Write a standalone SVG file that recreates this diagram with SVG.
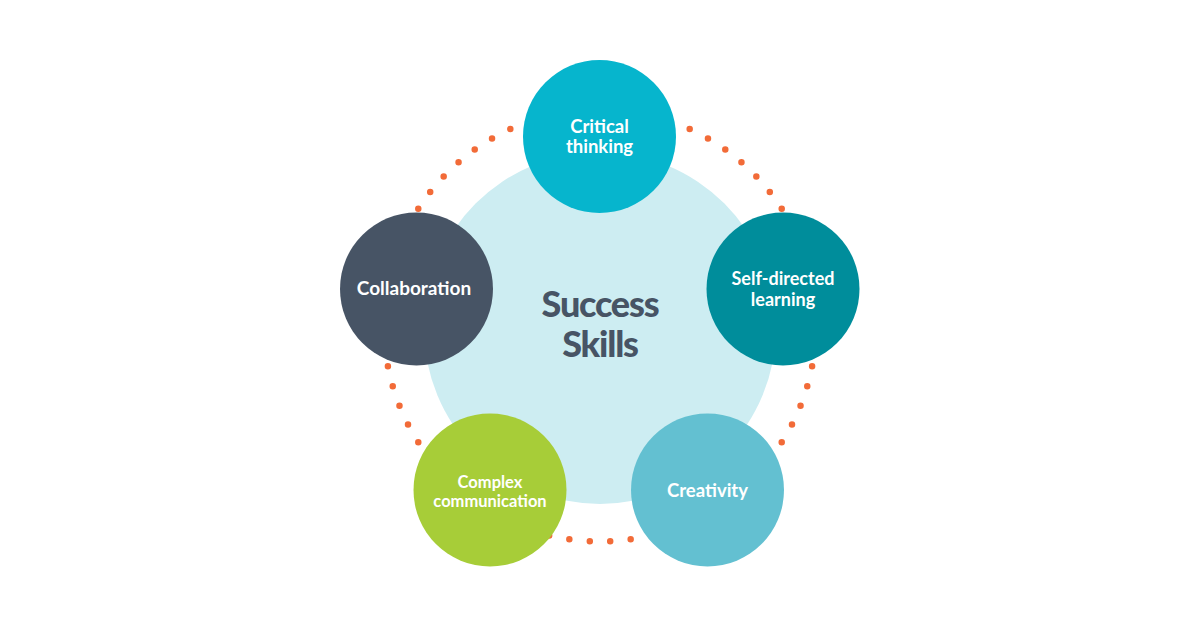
<svg xmlns="http://www.w3.org/2000/svg" width="1200" height="628" viewBox="0 0 1200 628">
<style>
.lbl{font-family:"Lato","Open Sans","Liberation Sans",sans-serif;font-weight:700;fill:#ffffff;text-anchor:middle}
.big{font-family:"Lato","Open Sans","Liberation Sans",sans-serif;font-weight:900;fill:#475465;text-anchor:middle;font-size:36px;letter-spacing:-1.2px}
</style>
<rect width="1200" height="628" fill="#ffffff"/>
<g id="connectors">
<circle cx="600" cy="325.5" r="216" fill="none" stroke="#F26B38" stroke-width="6.5" stroke-linecap="round" pathLength="66" stroke-dasharray="0 1"/>
</g>
<g id="center">
<circle cx="600" cy="328" r="176" fill="#CDEDF2"/>
<text class="big" x="600" y="317">Success</text>
<text class="big" x="600" y="357">Skills</text>
</g>
<g id="critical-thinking">
<circle cx="599.5" cy="136.5" r="76.5" fill="#06B5CD"/>
<text class="lbl" x="599.5" y="132.5" font-size="18.5">Critical</text>
<text class="lbl" x="599.5" y="152.5" font-size="18.5">thinking</text>
</g>
<g id="self-directed-learning">
<circle cx="783" cy="289" r="76.5" fill="#008D9B"/>
<text class="lbl" x="783" y="285" font-size="18">Self-directed</text>
<text class="lbl" x="783" y="305.5" font-size="18">learning</text>
</g>
<g id="creativity">
<circle cx="707.5" cy="490" r="76.5" fill="#63C0D1"/>
<text class="lbl" x="707.5" y="496.5" font-size="18.5">Creativity</text>
</g>
<g id="complex-communication">
<circle cx="490" cy="490" r="76.5" fill="#A7CD38"/>
<text class="lbl" x="490" y="488" font-size="16.5">Complex</text>
<text class="lbl" x="490" y="506.5" font-size="16.5">communication</text>
</g>
<g id="collaboration">
<circle cx="416.5" cy="289" r="76.5" fill="#475465"/>
<text class="lbl" x="414" y="295" font-size="19">Collaboration</text>
</g>
</svg>
